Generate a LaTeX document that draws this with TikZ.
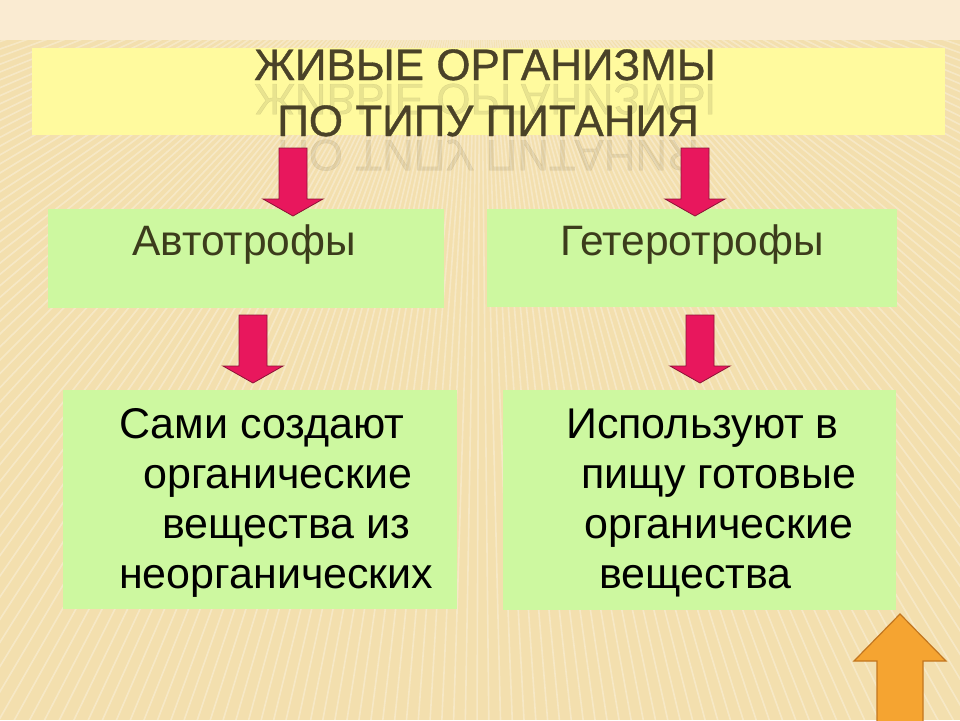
\documentclass[tikz,border=0pt]{standalone}
\usepackage{fontspec}
\setmainfont{Liberation Sans}
\newfontfamily\titlefamily[FakeBold=0.8]{Liberation Sans}
\usetikzlibrary{shapes,arrows,positioning}

\definecolor{bgtan}{HTML}{F3DFAE}
\definecolor{bgtop}{HTML}{FAEBD2}
\definecolor{titleyellow}{HTML}{FFFA9E}
\definecolor{boxgreen}{HTML}{CDF8A0}
\definecolor{arrowpink}{HTML}{E8175D}
\definecolor{arrowedge}{HTML}{8C1236}
\definecolor{arroworange}{HTML}{F5A431}
\definecolor{orangeedge}{HTML}{C27620}
\definecolor{titletext}{HTML}{4A4228}
\definecolor{labeltext}{HTML}{3C3C1C}

\tikzset{
  pics/blockdown/.style={code={
    \draw[pinkarrow] (-14,0) -- (14,0) -- (14,51) -- (30,51) -- (0,68) -- (-30,51) -- (-14,51) -- cycle;}},
  pics/blockup/.style={code={
    \draw[orangearrow] (0,0) -- (46,47) -- (23,47) -- (23,108) -- (-23,108) -- (-23,47) -- (-46,47) -- cycle;}}
}

\begin{document}
\begin{tikzpicture}[x=1pt,y=-1pt,
  pinkarrow/.style={fill=arrowpink, draw=arrowedge, line width=0.8pt},
  orangearrow/.style={fill=arroworange, draw=orangeedge, line width=1.2pt},
  greenbox/.style={rectangle, fill=boxgreen, inner sep=0pt},
  titlefont/.style={font=\titlefamily\fontsize{44}{56}\selectfont, text=titletext, inner sep=0pt, anchor=base},
  labelfont/.style={font=\fontsize{42.5}{50}\selectfont, text=labeltext, inner sep=0pt, anchor=base west},
  descfont/.style={font=\fontsize{43}{50}\selectfont, text=black, inner sep=0pt, align=left, anchor=north west}]
\useasboundingbox (0,0) rectangle (960,720);
% background
\fill[bgtan] (0,0) rectangle (960,720);
\fill[bgtop] (0,0) rectangle (960,40);
\begin{scope}
  \clip (0,40) rectangle (960,720);
  \foreach \a in {3,3.8,...,177}
    \draw[white, opacity=0.3, line width=1.6pt] (480,-120) -- +(\a:1500);
\end{scope}

% title
\node [rectangle, fill=titleyellow, minimum width=913pt, minimum height=87pt, inner sep=0pt] (title) at (488.5,91.5) {};
\node [titlefont, text opacity=0.12, yscale=-1, transform shape] (titleAmirror) at (485,84) {ЖИВЫЕ ОРГАНИЗМЫ};
\node [titlefont, text opacity=0.1, yscale=-1, transform shape] (titleBmirror) at (488,140) {ПО ТИПУ ПИТАНИЯ};
\node [titlefont] (titleA) at (485,80) {ЖИВЫЕ ОРГАНИЗМЫ};
\node [titlefont] (titleB) at (488,136) {ПО ТИПУ ПИТАНИЯ};

% second row
\node [greenbox, minimum width=396pt, minimum height=99pt] (auto) at (246,258.5) {};
\node [greenbox, minimum width=410pt, minimum height=98pt] (hetero) at (692,258) {};
\node [labelfont] (autoText) at (132,255) {Автотрофы};
\node [labelfont] (heteroText) at (560,255) {Гетеротрофы};

% third row
\node [greenbox, minimum width=394pt, minimum height=219pt] (autoDesc) at (260,499.5) {};
\node [greenbox, minimum width=393pt, minimum height=220pt] (heteroDesc) at (699.5,500) {};
\node [descfont] (autoDescText) at (119,408) {Сами создают\\\hspace*{24pt}органические\\\hspace*{43pt}вещества из\\неорганических};
\node [descfont] (heteroDescText) at (566,409) {Используют в\\\hspace*{15pt}пищу готовые\\\hspace*{18pt}органические\\\hspace*{33pt}вещества};

% arrows
\coordinate (arrAtop) at (293,148);
\coordinate (arrBtop) at (695,148);
\coordinate (arrCtop) at (253,315);
\coordinate (arrDtop) at (700,315);
\coordinate (backTip) at (900,614);
\pic at (arrAtop) {blockdown};
\pic at (arrBtop) {blockdown};
\pic at (arrCtop) {blockdown};
\pic at (arrDtop) {blockdown};
\pic at (backTip) {blockup};
\end{tikzpicture}
\end{document}
